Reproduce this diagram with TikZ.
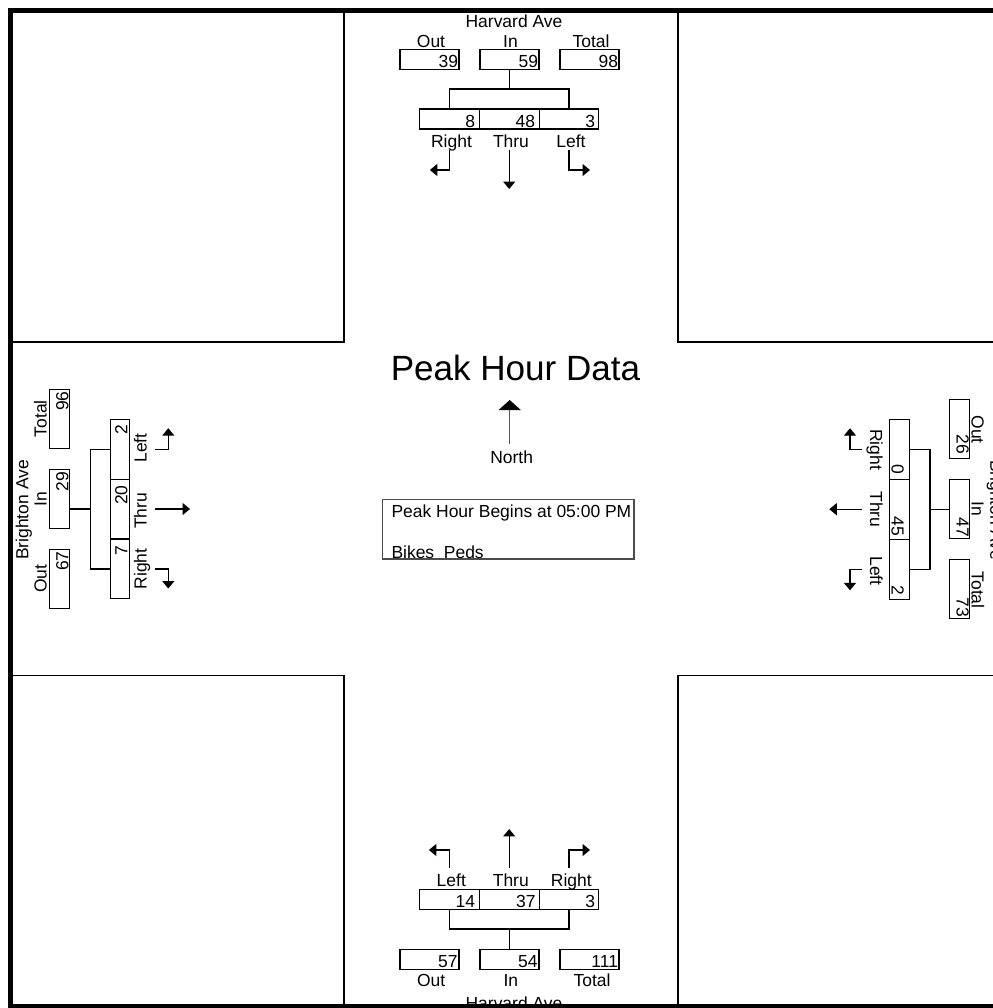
\documentclass[tikz,border=0pt]{standalone}
\usepackage{fontspec}
\setmainfont{Liberation Sans}
\usetikzlibrary{arrows.meta}
\begin{document}
\begin{tikzpicture}[x=0.75pt,y=-0.75pt,
  txt/.style={inner sep=0pt, outer sep=0pt, font=\fontsize{13.1pt}{15pt}\selectfont},
  cbox/.style={draw, line width=0.8pt, inner sep=0pt, outer sep=0pt},
  hbox/.style={cbox, minimum width=44.25pt, minimum height=14.8pt},
  lbox/.style={cbox, minimum width=44.85pt, minimum height=15pt},
  vbox/.style={cbox, minimum width=14.8pt, minimum height=44.25pt},
  vlbox/.style={cbox, minimum width=14.6pt, minimum height=44.9pt},
  wire/.style={line width=0.8pt},
  arr/.style={line width=0.8pt, -{Triangle[length=5.6pt,width=9pt]}},
  edgeline/.style={line width=0.8pt},
]
\useasboundingbox (0,0) rectangle (993,1008);
\clip (0,0) rectangle (993,1008);

% ---------- corner blocks ----------
\draw[edgeline] (344,10.5) -- (344,342) -- (10.5,342);
\draw[edgeline] (678,10.5) -- (678,342) -- (1000,342);
\draw[edgeline] (10.5,675.5) -- (344,675.5) -- (344,1006);
\draw[edgeline] (1000,675.5) -- (678,675.5) -- (678,1006);

% ---------- top approach ----------
\node[txt, anchor=base] (tName) at (514,27.5) {Harvard Ave};
\node[txt, anchor=base] (tOutL) at (431,47.3) {Out};
\node[txt, anchor=base] (tInL) at (510.5,47.3) {In};
\node[txt, anchor=base] (tTotL) at (591,47.3) {Total};
\node[hbox] (tOut) at (429.5,59.2) {};
\node[hbox] (tIn) at (509.5,59.2) {};
\node[hbox] (tTot) at (589.5,59.2) {};
\node[txt, anchor=base east] (tOutN) at (458,67.6) {39};
\node[txt, anchor=base east] (tInN) at (538,67.6) {59};
\node[txt, anchor=base east] (tTotN) at (618,67.6) {98};
\node[lbox] (tR) at (449.4,119) {};
\node[lbox] (tT) at (509.2,119) {};
\node[lbox] (tL) at (569,119) {};
\node[txt, anchor=base east] (tRN) at (475,127.6) {8};
\node[txt, anchor=base east] (tTN) at (535,127.6) {48};
\node[txt, anchor=base east] (tLN) at (595,127.6) {3};
\node[txt, anchor=base] (tRL) at (451.5,147.3) {Right};
\node[txt, anchor=base] (tTL) at (511,147.3) {Thru};
\node[txt, anchor=base] (tLL) at (571,147.3) {Left};
\coordinate (tBar) at (0,89);
\draw[wire] (tIn.south) -- (tIn.south |- tBar);
\draw[wire] (tR.north) -- (tR.north |- tBar) -- (tL.north |- tBar) -- (tL.north);
\coordinate (tRa) at (449.4,150);
\coordinate (tTa) at (509.2,150);
\coordinate (tLa) at (569,150);
\draw[arr] (tRa) -- ++(0,20) -- ++(-19.5,0);
\draw[arr] (tTa) -- ++(0,39);
\draw[arr] (tLa) -- ++(0,20) -- ++(21,0);

% ---------- bottom approach ----------
\coordinate (bLa) at (449.4,868);
\coordinate (bTa) at (509.2,868);
\coordinate (bRa) at (569,868);
\draw[arr] (bLa) -- ++(0,-18) -- ++(-20.5,0);
\draw[arr] (bTa) -- ++(0,-39);
\draw[arr] (bRa) -- ++(0,-18) -- ++(21,0);
\node[txt, anchor=base] (bLL) at (451.3,886.7) {Left};
\node[txt, anchor=base] (bTL) at (510.8,886.7) {Thru};
\node[txt, anchor=base] (bRL) at (571.3,886.7) {Right};
\node[lbox] (bL) at (449.4,899.2) {};
\node[lbox] (bT) at (509.2,899.2) {};
\node[lbox] (bR) at (569,899.2) {};
\node[txt, anchor=base east] (bLN) at (475,907.3) {14};
\node[txt, anchor=base east] (bTN) at (535.5,907.3) {37};
\node[txt, anchor=base east] (bRN) at (595,907.3) {3};
\coordinate (bBar) at (0,929);
\draw[wire] (bL.south) -- (bL.south |- bBar) -- (bR.south |- bBar) -- (bR.south);
\node[hbox] (bOut) at (429.5,959.2) {};
\node[hbox] (bIn) at (509.5,959.2) {};
\node[hbox] (bTot) at (589.5,959.2) {};
\draw[wire] (bIn.north |- bBar) -- (bIn.north);
\node[txt, anchor=base east] (bOutN) at (457.5,967.3) {57};
\node[txt, anchor=base east] (bInN) at (537.5,967.3) {54};
\node[txt, anchor=base east] (bTotN) at (618,967.3) {111};
\node[txt, anchor=base] (bOutL) at (431.2,986.7) {Out};
\node[txt, anchor=base] (bInL) at (510.8,986.7) {In};
\node[txt, anchor=base] (bTotL) at (592,986.7) {Total};
\node[txt, anchor=base] (bName) at (514,1009.2) {Harvard Ave};

% ---------- left approach ----------
\node[txt, rotate=90, anchor=base] (lName) at (28.3,510) {Brighton Ave};
\node[vbox] (lTot) at (59.3,418.8) {};
\node[vbox] (lIn) at (59.3,498.8) {};
\node[vbox] (lOut) at (59.3,578.8) {};
\node[txt, rotate=90, anchor=base] (lTotL) at (46.7,418.8) {Total};
\node[txt, rotate=90, anchor=base] (lInL) at (46.7,499.5) {In};
\node[txt, rotate=90, anchor=base] (lOutL) at (46.7,578.8) {Out};
\node[txt, rotate=90, anchor=base east] (lTotN) at (68.3,391.3) {96};
\node[txt, rotate=90, anchor=base east] (lInN) at (68.3,472) {29};
\node[txt, rotate=90, anchor=base east] (lOutN) at (68.3,551.3) {67};
\node[vlbox] (lL) at (120,449.2) {};
\node[vlbox] (lT) at (120,509) {};
\node[vlbox] (lR) at (120,569) {};
\node[txt, rotate=90, anchor=base east] (lLN) at (127.3,425) {2};
\node[txt, rotate=90, anchor=base east] (lTN) at (127.3,485.5) {20};
\node[txt, rotate=90, anchor=base east] (lRN) at (127.3,545.5) {7};
\node[txt, rotate=90, anchor=base] (lLL) at (146.7,448) {Left};
\node[txt, rotate=90, anchor=base] (lTL) at (146.7,511) {Thru};
\node[txt, rotate=90, anchor=base] (lRL) at (146.7,569) {Right};
\coordinate (lBar) at (90.7,0);
\draw[wire] (lIn.east |- lT) -- (lBar |- lT);
\draw[wire] (lL.west) -- (lBar |- lL) -- (lBar |- lR) -- (lR.west);
\coordinate (lLa) at (155,449.2);
\coordinate (lTa) at (155,509);
\coordinate (lRa) at (155,569);
\draw[arr] (lLa) -- ++(13.3,0) -- ++(0,-21);
\draw[arr] (lTa) -- ++(35,0);
\draw[arr] (lRa) -- ++(13.3,0) -- ++(0,19.5);

% ---------- right approach ----------
\node[txt, rotate=-90, anchor=base] (rName) at (990.3,510) {Brighton Ave};
\node[vbox] (rOut) at (959.7,428.8) {};
\node[vbox] (rIn) at (959.7,508.8) {};
\node[vbox] (rTot) at (959.7,588.8) {};
\node[txt, rotate=-90, anchor=base] (rOutL) at (971.7,429.5) {Out};
\node[txt, rotate=-90, anchor=base] (rInL) at (971.7,509) {In};
\node[txt, rotate=-90, anchor=base] (rTotL) at (971.7,590) {Total};
\node[txt, rotate=-90, anchor=base east] (rOutN) at (956.5,454) {26};
\node[txt, rotate=-90, anchor=base east] (rInN) at (956.5,537) {47};
\node[txt, rotate=-90, anchor=base east] (rTotN) at (956.5,617) {73};
\node[vlbox] (rR) at (899.3,449.2) {};
\node[vlbox] (rT) at (899.3,509.2) {};
\node[vlbox] (rL) at (899.3,569.3) {};
\node[txt, rotate=-90, anchor=base east] (rRN) at (891.5,474.5) {0};
\node[txt, rotate=-90, anchor=base east] (rTN) at (891.5,536) {45};
\node[txt, rotate=-90, anchor=base east] (rLN) at (891.5,595.5) {2};
\node[txt, rotate=-90, anchor=base] (rRL) at (870,449.5) {Right};
\node[txt, rotate=-90, anchor=base] (rTL) at (870,509.5) {Thru};
\node[txt, rotate=-90, anchor=base] (rLL) at (870,571) {Left};
\coordinate (rBar) at (930,0);
\draw[wire] (rIn.west |- rT) -- (rBar |- rT);
\draw[wire] (rR.east) -- (rBar |- rR) -- (rBar |- rL) -- (rL.east);
\coordinate (rRa) at (862,449.2);
\coordinate (rTa) at (862,509.2);
\coordinate (rLa) at (862,569.3);
\draw[arr] (rRa) -- ++(-12,0) -- ++(0,-21);
\draw[arr] (rTa) -- ++(-32.7,0);
\draw[arr] (rLa) -- ++(-12,0) -- ++(0,21);

% ---------- centre ----------
\node[txt, font=\fontsize{26.3pt}{30pt}\selectfont, anchor=base] (title) at (515.5,380.5) {Peak Hour Data};
\node[txt, anchor=base] (north) at (511.7,463.3) {North};
\coordinate (nA) at (509.7,444);
\coordinate (nB) at (509.7,400);
\draw[line width=0.8pt, draw=black!65, -{Triangle[length=7.5pt,width=16.5pt,color=black]}] (nA) -- (nB);
\node[draw=black!70, line width=0.8pt, inner sep=0pt, minimum width=188.5pt, minimum height=44.8pt] (info) at (508.35,529.15) {};
\node[txt, anchor=base west] (info1) at (391.5,517.5) {Peak Hour Begins at 05:00 PM};
\node[txt, anchor=base west] (info2) at (391.5,558.6) {Bikes\ \ Peds};

% ---------- frame ----------
\draw[line width=3.3pt] (1000,10.5) -- (10.5,10.5) -- (10.5,1006.5) -- (1000,1006.5);
\end{tikzpicture}
\end{document}
